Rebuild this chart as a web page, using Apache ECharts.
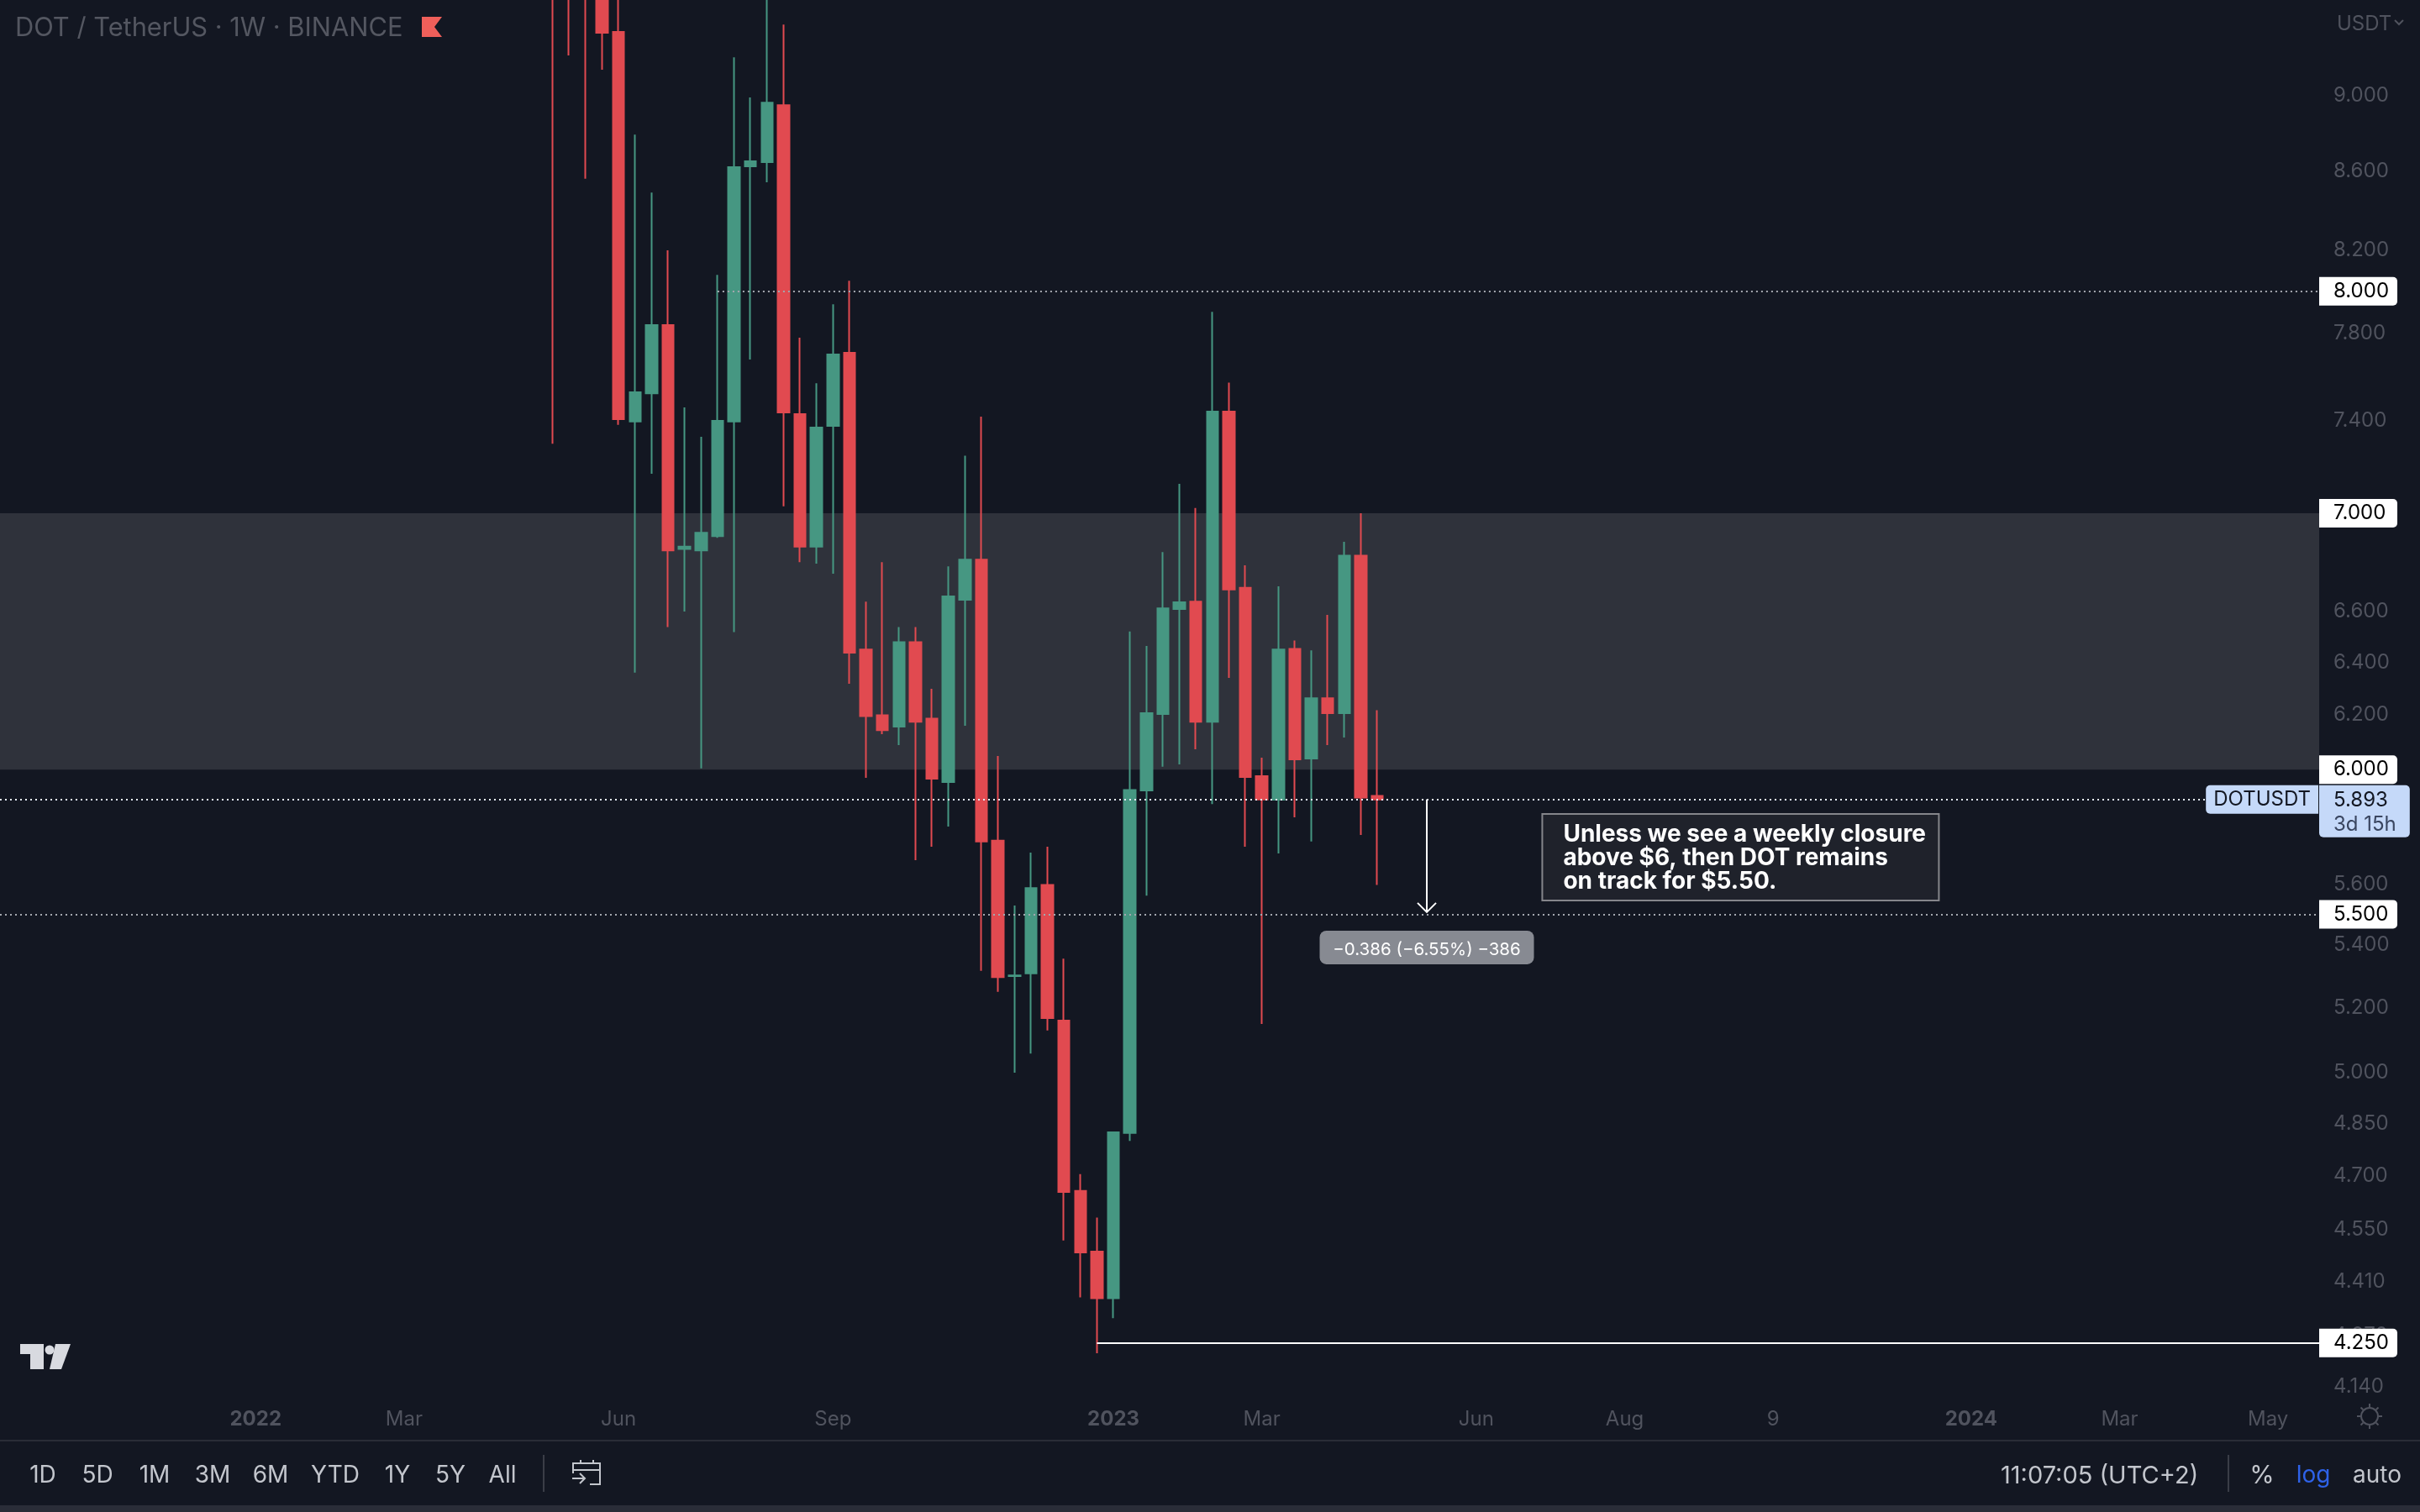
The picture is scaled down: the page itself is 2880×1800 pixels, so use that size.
<!DOCTYPE html>
<html>
<head>
<meta charset="utf-8">
<title>DOT / TetherUS 1W</title>
<script src="https://cdn.jsdelivr.net/npm/echarts@6/dist/echarts.min.js"></script>
<style>
  html, body { margin: 0; padding: 0; background: #131722; }
  #main { width: 2880px; height: 1800px; }
</style>
</head>
<body>
<div id="main"></div>
<script>
// weekly candles, first one is mostly above the visible range
const weeks = ['2022-05-09','2022-05-16','2022-05-23','2022-05-30','2022-06-06','2022-06-13','2022-06-20','2022-06-27',
  '2022-07-04','2022-07-11','2022-07-18','2022-07-25','2022-08-01','2022-08-08','2022-08-15','2022-08-22','2022-08-29',
  '2022-09-05','2022-09-12','2022-09-19','2022-09-26','2022-10-03','2022-10-10','2022-10-17','2022-10-24','2022-10-31',
  '2022-11-07','2022-11-14','2022-11-21','2022-11-28','2022-12-05','2022-12-12','2022-12-19','2022-12-26',
  '2023-01-02','2023-01-09','2023-01-16','2023-01-23','2023-01-30','2023-02-06','2023-02-13','2023-02-20','2023-02-27',
  '2023-03-06','2023-03-13','2023-03-20','2023-03-27','2023-04-03','2023-04-10','2023-04-17','2023-04-24'];
const opens = [11.2,10.6,10.2,10.1,9.350,7.397,7.524,7.839,6.851,6.845,6.904,7.397,8.624,8.646,8.947,7.430,6.861,
  7.378,7.709,6.449,6.199,6.157,6.478,6.187,5.955,6.645,6.807,5.749,5.299,5.308,5.598,5.159,4.657,4.490,
  4.366,4.822,5.925,6.204,6.608,6.638,6.175,7.441,6.693,5.976,5.892,6.452,6.040,6.263,6.207,6.824,5.906];
const closes = [10.6,10.2,10.1,9.345,7.408,7.528,7.839,6.845,6.861,6.918,7.400,8.620,8.650,8.961,7.438,6.861,7.370,
  7.701,6.437,6.196,6.144,6.478,6.175,5.967,6.659,6.807,5.746,5.296,5.301,5.587,5.167,4.654,4.488,4.366,
  4.824,5.927,6.207,6.611,6.635,6.175,7.441,6.686,5.973,5.893,6.449,6.037,6.263,6.207,6.824,5.900,5.893];
const lows = [7.299,9.219,8.560,9.140,7.382,6.360,7.168,6.537,6.598,6.004,6.897,6.517,7.678,8.542,7.029,6.797,6.791,
  6.750,6.318,5.970,6.129,6.089,5.682,5.728,5.798,6.160,5.316,5.249,5.000,5.058,5.129,4.520,4.368,4.224,
  4.314,4.799,5.562,6.010,6.019,6.074,5.877,6.340,5.728,5.149,5.705,5.830,5.746,6.089,6.117,5.769,5.598];
const highs = [11.9,11.3,10.9,10.5,10.1,8.790,8.489,8.199,7.460,7.329,8.079,9.208,8.989,9.750,9.392,7.780,7.569,
  7.937,8.050,6.638,6.797,6.537,6.537,6.299,6.780,7.247,7.419,6.049,5.529,5.708,5.728,5.355,4.704,4.583,
  4.826,6.520,6.463,6.838,7.125,7.022,7.901,7.572,6.784,6.043,6.699,6.484,6.446,6.585,6.881,7.000,6.218];

// price scale
const priceTicks = [9, 8.6, 8.2, 7.8, 7.4, 6.6, 6.4, 6.2, 5.6, 5.4, 5.2, 5, 4.85, 4.7, 4.55, 4.41, 4.27, 4.14];
const priceMin = 4.1247;
const priceMax = 9.5314;

// time scale, timestamps on a value axis so the tick list can be given by hand
const timeMin = Date.parse('2021-09-16T12:00:00Z');
const timeMax = Date.parse('2024-05-27T16:48:00Z');
const timeTickDates = ['2022-01-03','2022-03-07','2022-06-06','2022-09-05','2023-01-02','2023-03-06',
  '2023-06-05','2023-08-07','2023-10-09','2024-01-01','2024-03-04','2024-05-06'];
const timeTickLabels = ['2022','Mar','Jun','Sep','2023','Mar','Jun','Aug','9','2024','Mar','May'];

// drawn levels and annotations
const zoneTop = 7;
const zoneBottom = 6;
const dottedFrom8 = '2022-07-18';
const lowLineFrom = '2022-12-26';
const lastPrice = 5.893;
const targetPrice = 5.5;
const lowPrice = 4.25;
const measureDate = '2023-05-15';
const measureEnd = 5.507;
const measureText = '\u22120.386 (\u22126.55%) \u2212386';
const noteDate = '2023-07-03';
const notePrice = 5.842;
const noteLines = ['Unless we see a weekly closure', 'above $6, then DOT remains', 'on track for $5.50.'];

const rangeButtons = ['1D','5D','1M','3M','6M','YTD','1Y','5Y','All'];
const rangeButtonX = [51,116,184,253,322,399,473,536,598];

const FONT = 'Inter';
const BG = '#131722';
const UP = '#469782';
const DOWN = '#e14a50';
const TICK = '#50535e';
const BAR_TEXT = '#c3c6cd';

const candles = weeks.map(function (d, i) {
    return [Date.parse(d), opens[i], closes[i], lows[i], highs[i]];
});

// white price tag glued to the right edge of the plot
function levelTag(text) {
    return {
        show: true,
        position: 'end',
        distance: 0,
        formatter: text,
        color: '#000',
        fontFamily: FONT,
        fontSize: 24,
        width: 66,
        backgroundColor: '#fff',
        padding: [7, 10, 3, 17],
        borderRadius: [0, 5, 5, 0]
    };
}

function levelLine(price, text, from) {
    const style = { color: '#a4a7af', width: 2, type: [2, 4] };
    return [
        { coord: [from ? Date.parse(from) : timeMin, price], lineStyle: style, label: levelTag(text) },
        { coord: [timeMax, price] }
    ];
}

// zone edges only need the tag, the line itself stays invisible
function zoneTag(price, text) {
    return [
        { coord: [timeMin, price], lineStyle: { color: 'rgba(0,0,0,0)', width: 1 }, label: levelTag(text) },
        { coord: [timeMax, price] }
    ];
}

function renderMeasure(params, api) {
    const top = api.coord([api.value(0), api.value(1)]);
    const end = api.coord([api.value(0), api.value(2)]);
    const line = { stroke: '#fff', lineWidth: 2, fill: null };
    return {
        type: 'group',
        children: [
            { type: 'line', shape: { x1: top[0], y1: top[1], x2: end[0], y2: end[1] }, style: line },
            { type: 'polyline', shape: { points: [[end[0] - 11, end[1] - 11], [end[0], end[1]], [end[0] + 11, end[1] - 11]] }, style: line },
            {
                type: 'rect',
                shape: { x: end[0] - 127.5, y: end[1] + 22, width: 255, height: 40, r: 8 },
                style: { fill: '#878a92' }
            },
            {
                type: 'text',
                style: {
                    x: end[0], y: end[1] + 45, text: measureText, fill: '#fff',
                    font: '20.5px ' + FONT, align: 'center', verticalAlign: 'middle'
                }
            }
        ]
    };
}

function renderNote(params, api) {
    const p = api.coord([api.value(0), api.value(1)]);
    const children = [{
        type: 'rect',
        shape: { x: p[0], y: p[1], width: 472, height: 103 },
        style: { fill: '#1f222b', stroke: '#85868b', lineWidth: 2 }
    }];
    noteLines.forEach(function (t, i) {
        children.push({
            type: 'text',
            style: {
                x: p[0] + 25, y: p[1] + 25 + i * 28, text: t, fill: '#fff',
                font: 'bold 28px ' + FONT, verticalAlign: 'middle'
            }
        });
    });
    return { type: 'group', children: children };
}

// chrome around the chart (legend, logo, bottom toolbar)
function uiText(x, y, text, color, size, align, weight) {
    return {
        type: 'text', z: 70, x: x, y: y,
        style: {
            text: text, fill: color, font: (weight || 'normal') + ' ' + size + 'px ' + FONT,
            align: align || 'center', verticalAlign: 'middle'
        }
    };
}
function uiLine(points, color, width) {
    return {
        type: 'polyline', z: 70,
        shape: { points: points },
        style: { stroke: color, lineWidth: width || 2, fill: null }
    };
}
function uiRect(x, y, w, h, color, z) {
    return { type: 'rect', z: z || 50, shape: { x: x, y: y, width: w, height: h }, style: { fill: color } };
}
function uiPoly(points, color) {
    return { type: 'polygon', z: 70, shape: { points: points }, style: { fill: color } };
}

const ui = [
    uiRect(0, 1658, 2880, 142, BG),
    uiRect(0, 1714, 2880, 2, '#2a2d37'),
    uiRect(0, 1792, 2880, 8, '#2a2d38'),
    uiText(18, 34, 'DOT / TetherUS \u00b7 1W \u00b7 BINANCE', '#545761', 30.8, 'left'),
    uiPoly([[502, 20], [526, 20], [517, 32], [526, 44], [502, 44]], '#ef5f5a'),
    uiText(2781, 29, 'USDT', TICK, 24, 'left'),
    uiLine([[2850, 24], [2855, 29], [2860, 24]], TICK, 2),
    // logo
    uiPoly([[24, 1600], [52, 1600], [52, 1630], [36, 1630], [36, 1612], [24, 1612]], '#d8dae0'),
    { type: 'circle', z: 70, shape: { cx: 59, cy: 1607, r: 5.5 }, style: { fill: '#d8dae0' } },
    uiPoly([[66, 1600], [84, 1600], [73, 1630], [59, 1630]], '#d8dae0'),
    // bottom toolbar
    uiLine([[647, 1732], [647, 1776]], '#3a3d47', 2),
    uiLine([[2652, 1732], [2652, 1776]], '#3a3d47', 2),
    uiLine([[682, 1754], [682, 1742], [714, 1742], [714, 1767], [702, 1767]], BAR_TEXT, 2),
    uiLine([[682, 1750], [714, 1750]], BAR_TEXT, 2),
    uiLine([[691, 1738], [691, 1742]], BAR_TEXT, 2),
    uiLine([[706, 1738], [706, 1742]], BAR_TEXT, 2),
    uiLine([[681, 1760], [696, 1760]], BAR_TEXT, 2),
    uiLine([[690, 1754], [696, 1760], [690, 1766]], BAR_TEXT, 2),
    uiText(2381, 1757, '11:07:05 (UTC+2)', BAR_TEXT, 29, 'left'),
    uiText(2692, 1757, '%', BAR_TEXT, 30),
    uiText(2753, 1757, 'log', '#2e62e8', 28),
    uiText(2829, 1757, 'auto', BAR_TEXT, 28),
    // sun icon on the time scale
    { type: 'circle', z: 70, shape: { cx: 2820, cy: 1686, r: 10 }, style: { stroke: TICK, lineWidth: 2, fill: null } }
];
rangeButtons.forEach(function (t, i) {
    ui.push(uiText(rangeButtonX[i], 1757, t, BAR_TEXT, 28));
});
[[0, -1], [0.7, -0.7], [1, 0], [0.7, 0.7], [0, 1], [-0.7, 0.7], [-1, 0], [-0.7, -0.7]].forEach(function (d) {
    ui.push(uiLine([[2820 + d[0] * 11, 1686 + d[1] * 11], [2820 + d[0] * 15, 1686 + d[1] * 15]], TICK, 2));
});

const chart = echarts.init(document.getElementById('main'));
chart.setOption({
    animation: false,
    backgroundColor: BG,
    textStyle: { fontFamily: FONT },
    graphic: { elements: ui },
    grid: { left: 0, right: 120, top: 0, bottom: 142 },
    xAxis: {
        type: 'value',
        min: timeMin,
        max: timeMax,
        z: 60,
        axisLine: { show: false },
        axisTick: { show: false },
        splitLine: { show: false },
        axisPointer: { show: false },
        axisLabel: {
            customValues: timeTickDates.map(function (d) { return Date.parse(d); }),
            margin: 20,
            color: TICK,
            fontFamily: FONT,
            fontSize: 24,
            hideOverlap: false,
            formatter: function (value) {
                const label = timeTickLabels[timeTickDates.findIndex(function (d) { return Date.parse(d) === value; })];
                return /^\d{4}$/.test(label) ? '{y|' + label + '}' : label;
            },
            rich: { y: { fontWeight: 'bold', fontFamily: FONT, fontSize: 24, color: TICK } }
        }
    },
    yAxis: {
        type: 'log',
        logBase: 10,
        position: 'right',
        min: priceMin,
        max: priceMax,
        z: 0,
        axisLine: { show: false },
        axisTick: { show: false },
        minorTick: { show: false },
        splitLine: { show: false },
        axisLabel: {
            customValues: priceTicks,
            margin: 17,
            padding: [5, 0, 0, 0],
            color: TICK,
            fontFamily: FONT,
            fontSize: 24,
            formatter: function (v) { return Number(v).toFixed(3); }
        }
    },
    series: [
        {
            // zone and the levels that sit behind the candles
            type: 'line',
            name: 'levels',
            z: 1,
            data: [],
            silent: true,
            markArea: {
                silent: true,
                itemStyle: { color: '#2f323b' },
                data: [[{ coord: [timeMin, zoneTop] }, { coord: [timeMax, zoneBottom] }]]
            },
            markLine: {
                silent: true,
                symbol: 'none',
                data: [
                    levelLine(8, '8.000', dottedFrom8),
                    levelLine(targetPrice, '5.500')
                ]
            }
        },
        {
            type: 'line',
            name: 'zone tags',
            z: 3,
            data: [],
            silent: true,
            markLine: {
                silent: true,
                symbol: 'none',
                data: [
                    zoneTag(zoneTop, '7.000'),
                    zoneTag(zoneBottom, '6.000')
                ]
            }
        },
        {
            type: 'candlestick',
            name: 'DOTUSDT',
            z: 2,
            clip: true,
            barWidth: 14,
            data: candles,
            itemStyle: {
                color: UP,
                color0: DOWN,
                borderColor: UP,
                borderColor0: DOWN,
                borderWidth: 2
            }
        },
        {
            // last price and the low, on top of the candles
            type: 'line',
            name: 'last',
            z: 3,
            data: [],
            silent: true,
            markLine: {
                silent: true,
                symbol: 'none',
                data: [
                    [
                        { coord: [timeMin, lastPrice], lineStyle: { color: '#e6ecfa', width: 2, type: [2, 4] }, label: { show: false } },
                        { coord: [timeMax, lastPrice] }
                    ],
                    [
                        { coord: [Date.parse(lowLineFrom), lowPrice], lineStyle: { color: '#fff', width: 2, type: 'solid' }, label: levelTag('4.250') },
                        { coord: [timeMax, lowPrice] }
                    ]
                ]
            },
            markPoint: {
                silent: true,
                symbol: 'rect',
                symbolSize: 0,
                data: [
                    {
                        coord: [timeMax, lastPrice],
                        label: {
                            show: true,
                            position: 'left',
                            distance: 1,
                            formatter: 'DOTUSDT',
                            color: '#131722',
                            fontFamily: FONT,
                            fontSize: 24,
                            backgroundColor: '#c5d9f9',
                            padding: [7, 9, 3, 9],
                            borderRadius: [5, 0, 0, 5]
                        }
                    },
                    {
                        coord: [timeMax, lastPrice],
                        label: {
                            show: true,
                            position: 'right',
                            distance: 0,
                            offset: [0, 14],
                            formatter: '{a|' + lastPrice.toFixed(3) + '}\n{b|3d 15h}',
                            backgroundColor: '#c5d9f9',
                            padding: [3, 16, 1, 17],
                            borderRadius: [0, 5, 5, 5],
                            rich: {
                                a: { color: '#131722', fontFamily: FONT, fontSize: 24, lineHeight: 30 },
                                b: { color: '#3a4660', fontFamily: FONT, fontSize: 24, lineHeight: 28 }
                            }
                        }
                    }
                ]
            }
        },
        {
            type: 'custom',
            name: 'measure',
            z: 4,
            clip: false,
            silent: true,
            renderItem: renderMeasure,
            encode: { x: 0, y: [1, 2] },
            data: [[Date.parse(measureDate), lastPrice, measureEnd]]
        },
        {
            type: 'custom',
            name: 'note',
            z: 4,
            clip: false,
            silent: true,
            renderItem: renderNote,
            encode: { x: 0, y: 1 },
            data: [[Date.parse(noteDate), notePrice]]
        }
    ]
});
</script>
</body>
</html>
